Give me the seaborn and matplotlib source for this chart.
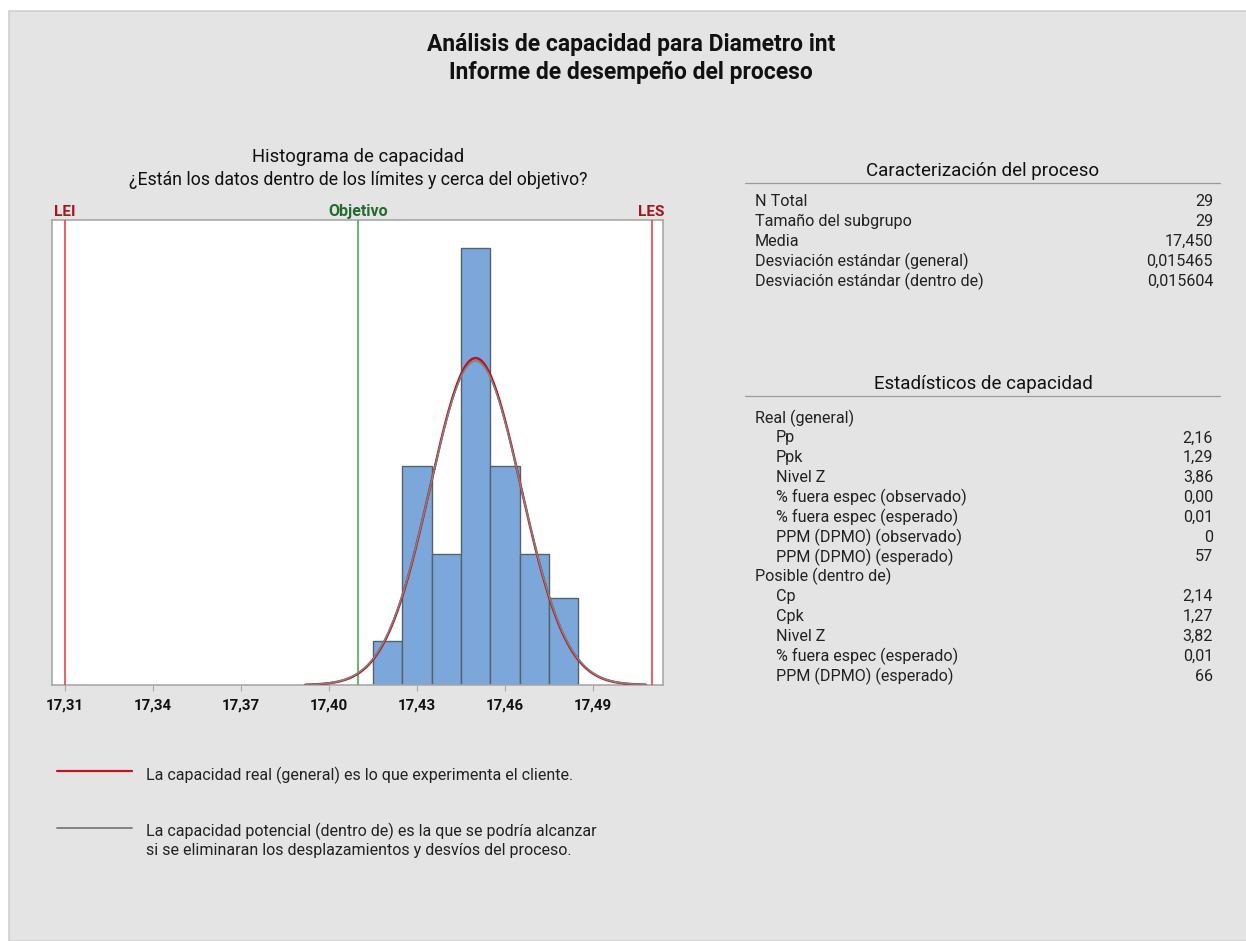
import numpy as np
import matplotlib.pyplot as plt
import matplotlib.patches as mpatches
import seaborn as sns

bin_centers = [17.42, 17.43, 17.44, 17.45, 17.46, 17.47, 17.48]
bin_counts = [1, 5, 3, 10, 5, 3, 2]
bin_width = 0.01
lei, objetivo, les = 17.31, 17.41, 17.51
media = 17.450
sd_general = 0.015465
sd_dentro = 0.015604
curve_range = [17.392, 17.508]
xticks = [17.31, 17.34, 17.37, 17.40, 17.43, 17.46, 17.49]

carac_labels = ['N Total', 'Tamaño del subgrupo', 'Media',
                'Desviación estándar (general)', 'Desviación estándar (dentro de)']
carac_values = ['29', '29', '17,450', '0,015465', '0,015604']

stats_labels = ['Real (general)', 'Pp', 'Ppk', 'Nivel Z', '% fuera espec (observado)',
                '% fuera espec (esperado)', 'PPM (DPMO) (observado)', 'PPM (DPMO) (esperado)',
                'Posible (dentro de)', 'Cp', 'Cpk', 'Nivel Z',
                '% fuera espec (esperado)', 'PPM (DPMO) (esperado)']
stats_values = ['', '2,16', '1,29', '3,86', '0,00', '0,01', '0', '57',
                '', '2,14', '1,27', '3,82', '0,01', '66']
stats_indent = [False, True, True, True, True, True, True, True,
                False, True, True, True, True, True]

sns.set_style('white')
plt.rcParams['font.family'] = ['Roboto', 'DejaVu Sans']

W, H = 1246, 941
fig = plt.figure(figsize=(W / 100, H / 100), dpi=100)
fig.patch.set_facecolor('white')
bg = mpatches.Rectangle((9 / W, 0), 1, 1 - 11 / H, transform=fig.transFigure,
                        facecolor='#e4e4e4', edgecolor='#cfcfcf', lw=1.2, zorder=-10)
fig.patches.append(bg)


def fx(px):
    return px / W


def fy(py):
    return 1 - py / H


fig.text(fx(631), fy(45), 'Análisis de capacidad para Diametro int', ha='center', va='center',
         fontsize=16.5, fontweight='bold', color='#111111')
fig.text(fx(631), fy(72), 'Informe de desempeño del proceso', ha='center', va='center',
         fontsize=16.5, fontweight='bold', color='#111111')

# histograma
ax = fig.add_axes([fx(52), fy(685), fx(663) - fx(52), fy(220) - fy(685)])
ax.set_facecolor('white')
data = np.repeat(bin_centers, bin_counts)
edges = np.arange(len(bin_centers) + 1) * bin_width + bin_centers[0] - bin_width / 2
sns.histplot(x=data, bins=edges, stat='count', color='#7ba7da', alpha=1,
             edgecolor='#56616c', linewidth=1.0, ax=ax, zorder=2)

xs = np.linspace(curve_range[0], curve_range[1], 400)
n = len(data)
for sd, col, lw in [(sd_general, '#c0141c', 1.8), (sd_dentro, '#808080', 1.2)]:
    ys = n * bin_width * np.exp(-0.5 * ((xs - media) / sd) ** 2) / (sd * np.sqrt(2 * np.pi))
    sns.lineplot(x=xs, y=ys, color=col, lw=lw, ax=ax, zorder=4)

ax.axvline(lei, color='#e8454a', lw=1.2, zorder=3)
ax.axvline(les, color='#e8454a', lw=1.2, zorder=3)
ax.axvline(objetivo, color='#4caf5a', lw=1.2, zorder=3)

ax.set_xlim(17.3056, 17.5139)
ax.set_ylim(0, 10.64)
ax.set_yticks([])
ax.set_xticks(xticks)
ax.set_xticklabels([f'{t:.2f}'.replace('.', ',') for t in xticks],
                   fontsize=10.8, fontweight='bold', color='#111111')
ax.tick_params(axis='x', length=4, width=0.8, color='#aaaaaa', pad=6, direction='out',
               bottom=True)
ax.set_xlabel('')
ax.set_ylabel('')
for s in ax.spines.values():
    s.set_color('#a8a8a8')
    s.set_linewidth(1.2)

trans = ax.get_xaxis_transform()
ax.text(lei, 1.003, 'LEI', transform=trans, ha='center', va='bottom', fontsize=11,
        fontweight='bold', color='#a3161c')
ax.text(les, 1.003, 'LES', transform=trans, ha='center', va='bottom', fontsize=11,
        fontweight='bold', color='#a3161c')
ax.text(objetivo, 1.003, 'Objetivo', transform=trans, ha='center', va='bottom', fontsize=11.5,
        fontweight='bold', color='#236b2e')

fig.text(fx(358), fy(157), 'Histograma de capacidad', ha='center', va='center',
         fontsize=13.3, color='#111111')
fig.text(fx(358), fy(180), '¿Están los datos dentro de los límites y cerca del objetivo?',
         ha='center', va='center', fontsize=12.8, color='#111111')

# leyenda
fig.add_artist(plt.Line2D([fx(57), fx(132)], [fy(771), fy(771)], color='#c0141c', lw=1.6))
fig.text(fx(146), fy(775), 'La capacidad real (general) es lo que experimenta el cliente.',
         ha='left', va='center', fontsize=11.5, color='#222222')
fig.add_artist(plt.Line2D([fx(57), fx(132)], [fy(828), fy(828)], color='#7a7a7a', lw=1.3))
fig.text(fx(146), fy(831), 'La capacidad potencial (dentro de) es la que se podría alcanzar',
         ha='left', va='center', fontsize=11.5, color='#222222')
fig.text(fx(146), fy(851), 'si se eliminaran los desplazamientos y desvíos del proceso.',
         ha='left', va='center', fontsize=11.5, color='#222222')

# tablas
def tabla(title, ytitle, labels, values, indent, y0, step):
    fig.text(fx(983), fy(ytitle), title, ha='center', va='center', fontsize=13.5,
             color='#111111')
    fig.add_artist(plt.Line2D([fx(745), fx(1220)], [fy(ytitle + 12), fy(ytitle + 12)],
                              color='#9a9a9a', lw=0.9))
    for i, (lab, val) in enumerate(zip(labels, values)):
        y = fy(y0 + i * step)
        x = fx(776) if indent[i] else fx(755)
        fig.text(x, y, lab, ha='left', va='center', fontsize=11.6, color='#222222')
        fig.text(fx(1213), y, val, ha='right', va='center', fontsize=11.6, color='#222222')


tabla('Caracterización del proceso', 171, carac_labels, carac_values,
      [False] * len(carac_labels), 201, 20)
tabla('Estadísticos de capacidad', 384, stats_labels, stats_values, stats_indent, 418, 19.85)

fig.savefig('out.png', dpi=100, facecolor=fig.get_facecolor())
